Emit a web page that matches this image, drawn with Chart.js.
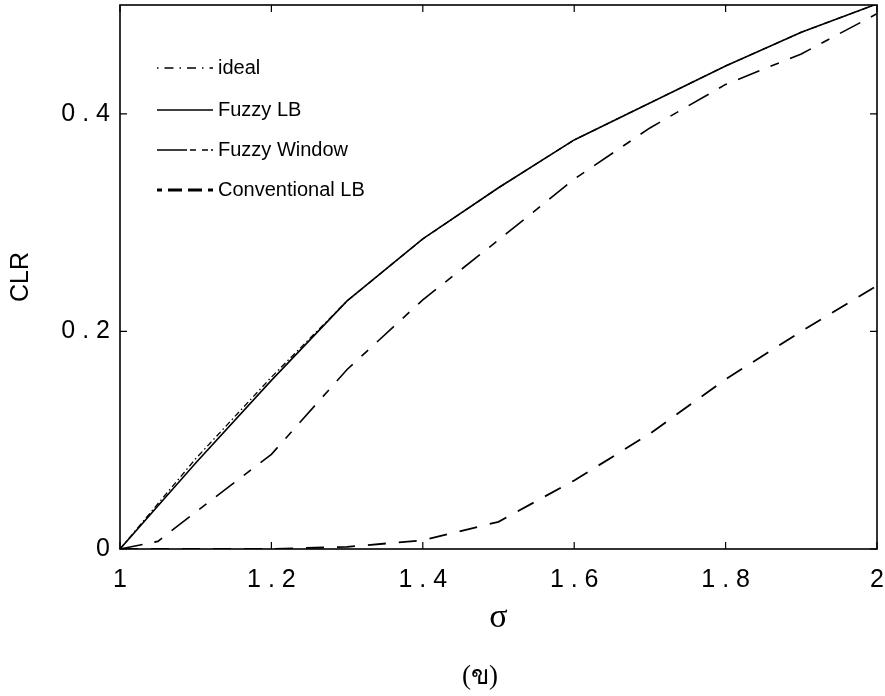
<!DOCTYPE html>
<html>
<head>
<meta charset="utf-8">
<script src="https://cdn.jsdelivr.net/npm/chart.js@4/dist/chart.umd.min.js"></script>
<style>
body { margin: 0; background: #fff; overflow: hidden; }
#wrap { position: relative; width: 885px; height: 696px; overflow: hidden; }
#caption { position: absolute; left: 380px; width: 200px; top: 653px; text-align: center; font: 27px "Liberation Serif", "DejaVu Serif", serif; color: #000; }
</style>
</head>
<body>
<div id="wrap"><canvas id="myChart" width="885" height="696"></canvas><div id="caption">(ข)</div></div>
<script>
// values
var sigma = [1, 1.1, 1.2, 1.3, 1.4, 1.5, 1.6, 1.7, 1.8, 1.9, 2];
var windowSigma = [1, 1.05, 1.1, 1.2, 1.3, 1.4, 1.5, 1.6, 1.7, 1.8, 1.9, 2];
var ideal = [0, 0.083, 0.158, 0.228, 0.285, 0.332, 0.376, 0.41, 0.444, 0.475, 0.501];
var fuzzyLB = [0, 0.079, 0.155, 0.228, 0.285, 0.332, 0.376, 0.41, 0.444, 0.475, 0.501];
var fuzzyWindow = [0, 0.007, 0.034, 0.087, 0.165, 0.229, 0.284, 0.34, 0.387, 0.427, 0.455, 0.492];
var conventionalLB = [0, 0, 0, 0.002, 0.008, 0.025, 0.063, 0.106, 0.156, 0.2, 0.242];

var xTicks = [1, 1.2, 1.4, 1.6, 1.8, 2];
var xTickLabels = ["1", "1 . 2", "1 . 4", "1 . 6", "1 . 8", "2"];
var yTicks = [0, 0.2, 0.4];
var yTickLabels = ["0", "0 . 2", "0 . 4"];

function pts(xs, ys) {
    return xs.map(function(x, i) { return {x: x, y: ys[i]}; });
}

var frameAndLegend = {
    id: "frameAndLegend",
    afterDatasetsDraw: function(chart) {
        var a = chart.chartArea, ctx = chart.ctx;
        var sx = chart.scales.x, sy = chart.scales.y;
        ctx.save();
        ctx.strokeStyle = "#000";
        ctx.lineWidth = 1.6;
        ctx.setLineDash([]);
        ctx.strokeRect(a.left, a.top, a.right - a.left, a.bottom - a.top);
        ctx.lineWidth = 1.2;
        ctx.beginPath();
        sx.ticks.forEach(function(t) {
            var px = sx.getPixelForValue(t.value);
            ctx.moveTo(px, a.bottom); ctx.lineTo(px, a.bottom - 7);
            ctx.moveTo(px, a.top); ctx.lineTo(px, a.top + 7);
        });
        sy.ticks.forEach(function(t) {
            var py = sy.getPixelForValue(t.value);
            ctx.moveTo(a.left, py); ctx.lineTo(a.left + 7, py);
            ctx.moveTo(a.right, py); ctx.lineTo(a.right - 7, py);
        });
        ctx.stroke();

        // legend in the upper left of the plot
        var rows = [68, 110, 150, 190];
        ctx.font = "20px 'Liberation Sans', Arial, sans-serif";
        ctx.fillStyle = "#000";
        ctx.textBaseline = "middle";
        chart.data.datasets.forEach(function(ds, i) {
            var y = rows[i];
            ctx.beginPath();
            ctx.lineWidth = ds.legendWidth || ds.borderWidth;
            ctx.setLineDash(ds.legendDash || ds.borderDash || []);
            ctx.moveTo(157, y); ctx.lineTo(213, y);
            ctx.stroke();
            ctx.fillText(ds.label, 218, y);
        });
        ctx.restore();
    }
};

var ctx = document.getElementById("myChart").getContext("2d");
var myChart = new Chart(ctx, {
    type: "line",
    data: {
        datasets: [
            {
                label: "ideal",
                data: pts(sigma, ideal),
                borderColor: "#000",
                borderWidth: 1.3,
                borderDash: [6, 3, 1.5, 3],
                legendDash: [1.5, 6, 9, 6]
            },
            {
                label: "Fuzzy LB",
                data: pts(sigma, fuzzyLB),
                borderColor: "#000",
                borderWidth: 1.6
            },
            {
                label: "Fuzzy Window",
                data: pts(windowSigma, fuzzyWindow),
                borderColor: "#000",
                borderWidth: 1.6,
                borderDash: [23, 12, 9, 12],
                legendDash: [30, 3, 6, 6, 6, 3]
            },
            {
                label: "Conventional LB",
                data: pts(sigma, conventionalLB),
                borderColor: "#000",
                borderWidth: 1.8,
                borderDash: [18, 13],
                legendWidth: 3,
                legendDash: [5, 6, 14, 6, 14, 6]
            }
        ]
    },
    options: {
        responsive: false,
        animation: false,
        devicePixelRatio: 1,
        layout: { padding: { top: 5, right: 8, left: 0, bottom: 0 } },
        elements: {
            point: { radius: 0 },
            line: { tension: 0, fill: false }
        },
        plugins: {
            legend: { display: false },
            tooltip: { enabled: false }
        },
        scales: {
            x: {
                type: "linear",
                min: 1,
                max: 2,
                afterBuildTicks: function(s) { s.ticks = xTicks.map(function(v) { return {value: v}; }); },
                afterFit: function(s) { s.height = 147; s.paddingLeft = 0; s.paddingRight = 0; },
                grid: { display: false, drawTicks: false },
                border: { display: false },
                ticks: {
                    padding: 16,
                    color: "#000",
                    maxRotation: 0,
                    autoSkip: false,
                    font: { family: "'Liberation Sans', Arial, sans-serif", size: 25 },
                    callback: function(v, i) { return xTickLabels[i]; }
                },
                title: {
                    display: true,
                    text: "σ",
                    color: "#000",
                    font: { family: "'Liberation Serif', serif", size: 34 },
                    padding: { top: 0, bottom: 58 }
                }
            },
            y: {
                min: 0,
                max: 0.5,
                afterBuildTicks: function(s) { s.ticks = yTicks.map(function(v) { return {value: v}; }); },
                afterFit: function(s) { s.width = 120; s.paddingTop = 0; s.paddingBottom = 0; },
                grid: { display: false, drawTicks: false },
                border: { display: false },
                ticks: {
                    padding: 10,
                    color: "#000",
                    font: { family: "'Liberation Sans', Arial, sans-serif", size: 25 },
                    callback: function(v, i) { return yTickLabels[i]; }
                },
                title: {
                    display: true,
                    text: "CLR",
                    color: "#000",
                    font: { family: "'Liberation Sans', Arial, sans-serif", size: 25 },
                    padding: { top: 6, bottom: 0 }
                }
            }
        }
    },
    plugins: [frameAndLegend]
});
</script>
</body>
</html>
